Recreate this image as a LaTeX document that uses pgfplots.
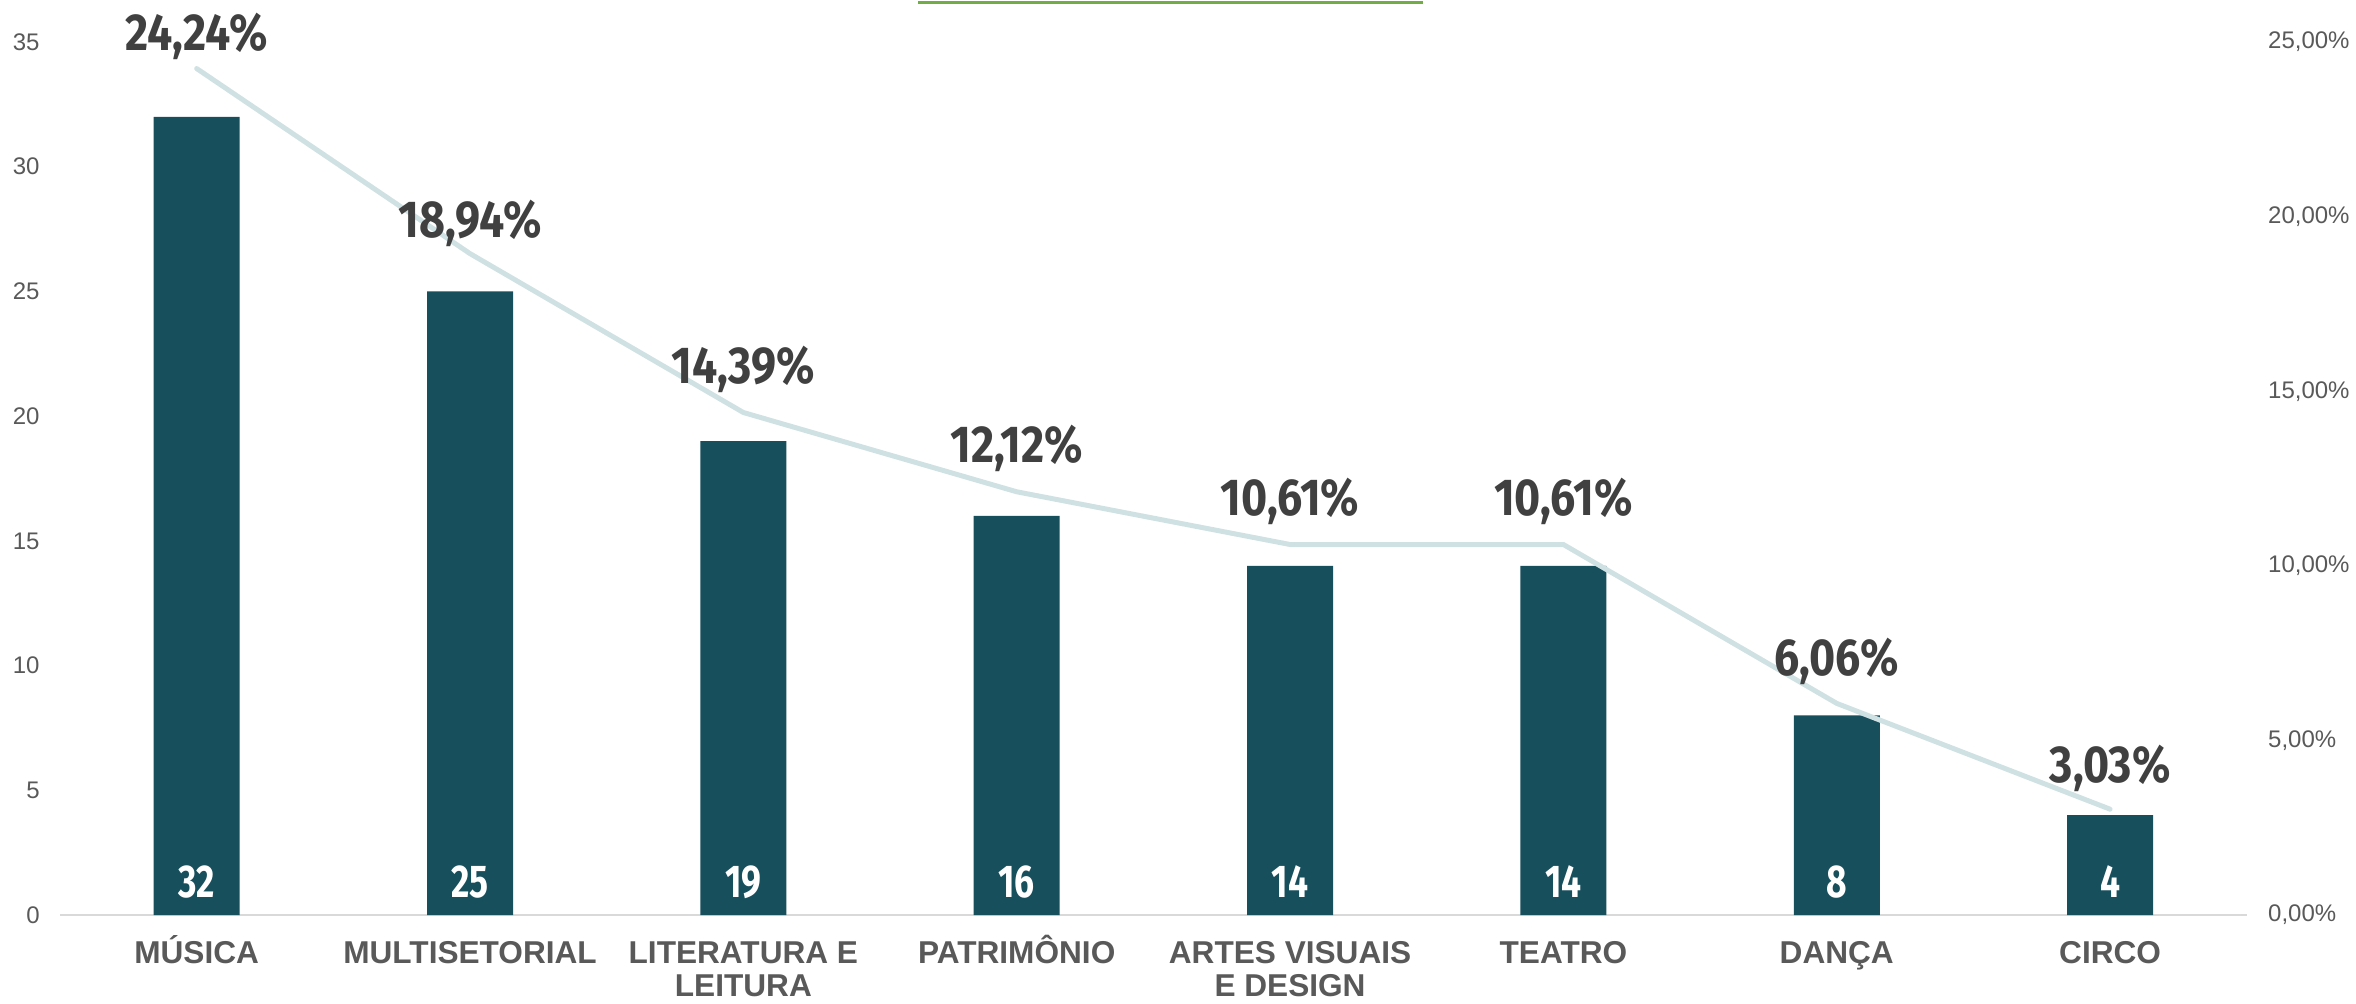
\documentclass[border=0pt]{standalone}
\usepackage{pgfplots}
\pgfplotsset{compat=1.18}
\usepackage{pgfplotstable}
\usepackage{fontspec}
\setmainfont{Liberation Sans}
\newfontfamily\condfont[FakeStretch=0.77]{Fira Sans}
\newfontfamily\pctfont[FakeStretch=0.86]{Fira Sans}
\definecolor{barc}{HTML}{174F5C}
\definecolor{linec}{HTML}{D0E1E4}
\definecolor{pctc}{HTML}{404040}
\definecolor{tickc}{HTML}{595959}
\definecolor{axisgray}{HTML}{D9D9D9}
\definecolor{greenc}{HTML}{70AD47}
\pgfkeys{/pgf/number format/assume math mode=true}

\pgfplotstableread{
x n p z off
0 32 24.24 0 9.25
1 25 18.94 0 8.3
2 19 14.39 0 14.75
3 16 12.12 0 14.5
4 14 10.61 0 14.75
5 14 10.61 0 14.75
6 8 6.06 0 14
7 4 3.03 0 13.5
}\datatable

\newcommand{\ls}{\rule{0pt}{15pt}}

\begin{document}
\begin{tikzpicture}
\begin{axis}[
  at={(0,0)}, anchor=south west,
  scale only axis, width=1093.5pt, height=436.5pt,
  xmin=-0.5, xmax=7.5, ymin=0, ymax=35,
  axis x line*=bottom, axis y line*=left,
  x axis line style={draw=axisgray, line width=1.2pt},
  y axis line style={draw=none},
  major tick length=0pt, tick style={draw=none},
  xtick={0,...,7},
  xticklabels={\ls MÚSICA, \ls MULTISETORIAL, \ls LITERATURA E\\LEITURA, \ls PATRIMÔNIO, \ls ARTES VISUAIS\\E DESIGN, \ls TEATRO, \ls DANÇA, \ls CIRCO},
  xticklabel style={align=center, anchor=north, inner sep=0pt, yshift=-9pt,
    font=\bfseries\fontsize{15.8}{16.5}\selectfont, text=tickc},
  ytick={0,5,...,35},
  yticklabels={0,5,10,15,20,25,30,35},
  yticklabel style={anchor=east, inner sep=0pt, xshift=-10pt,
    font=\fontsize{12}{14}\selectfont, text=tickc},
  clip=false,
]
\addplot[ybar, bar width=43pt, fill=barc, draw=none] table[x=x, y=n]{\datatable};
\addplot[draw=none, mark=none, nodes near coords={\pgfmathprintnumber[assume math mode=true]{\pgfplotspointmeta}}, point meta=explicit,
  nodes near coords style={anchor=base, yshift=9pt, inner sep=0pt, text=white,
    font=\condfont\bfseries\fontsize{23}{25}\selectfont}]
  table[x=x, y=z, meta=n]{\datatable};
\end{axis}
\begin{axis}[
  at={(0,0)}, anchor=south west,
  scale only axis, width=1093.5pt, height=436.5pt,
  xmin=-0.5, xmax=7.5, ymin=0, ymax=25,
  axis x line=none, axis y line*=right,
  y axis line style={draw=none},
  major tick length=0pt, tick style={draw=none},
  ytick={0,5,...,25},
  yticklabels={{0,00\%},{5,00\%},{10,00\%},{15,00\%},{20,00\%},{25,00\%}},
  yticklabel style={anchor=west, inner sep=0pt, xshift=10.5pt,
    font=\fontsize{12}{14}\selectfont, text=tickc},
  clip=false,
]
\addplot[color=linec, line width=2.5pt, line cap=round, line join=round, mark=none,
  visualization depends on={\thisrow{off} \as \off},
  nodes near coords={\pgfmathprintnumber[fixed,fixed zerofill,precision=2,use comma,assume math mode=true]{\pgfplotspointmeta}\%},
  nodes near coords style={anchor=base, yshift=\off pt, inner sep=0pt, text=pctc,
    font=\pctfont\bfseries\fontsize{26}{28}\selectfont}]
  table[x=x, y=p]{\datatable};
\end{axis}
\draw[greenc, line width=1.5pt] (429pt,456.25pt) -- (681.5pt,456.25pt);
\pgfresetboundingbox
\useasboundingbox (-30pt,-44pt) rectangle (1148pt,457.5pt);
\end{tikzpicture}
\end{document}
